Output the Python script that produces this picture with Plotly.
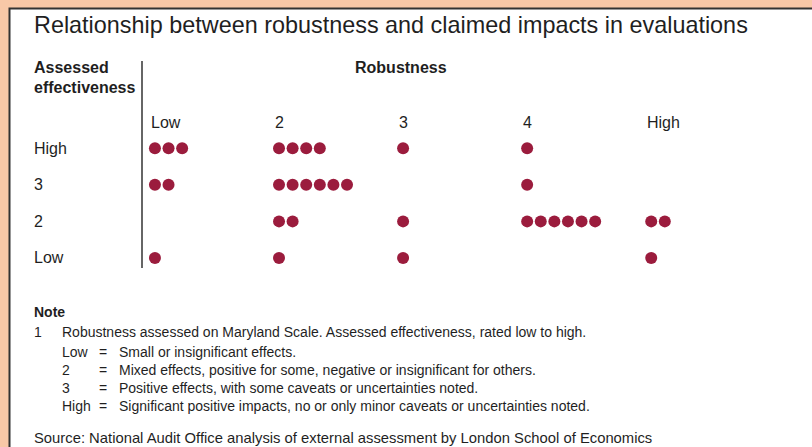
import plotly.graph_objects as go

# ---------------- data ----------------
robustness = ["Low", "2", "3", "4", "High"]          # columns (x)
effectiveness = ["Low", "2", "3", "High"]            # rows (y), bottom to top
counts_eff_low = [1, 1, 1, 0, 1]
counts_eff_2 = [0, 2, 1, 6, 2]
counts_eff_3 = [2, 6, 0, 1, 0]
counts_eff_high = [3, 4, 1, 1, 0]
counts = [counts_eff_low, counts_eff_2, counts_eff_3, counts_eff_high]

title = "Relationship between robustness and claimed impacts in evaluations"
note_main = "Robustness assessed on Maryland Scale. Assessed effectiveness, rated low to high."
note_keys = ["Low", "2", "3", "High"]
note_texts = [
    "Small or insignificant effects.",
    "Mixed effects, positive for some, negative or insignificant for others.",
    "Positive effects, with some caveats or uncertainties noted.",
    "Significant positive impacts, no or only minor caveats or uncertainties noted.",
]
source = "Source: National Audit Office analysis of external assessment by London School of Economics"

# ---------------- layout geometry ----------------
W, H = 812, 447
FONT = "Liberation Sans, Arial, Helvetica, sans-serif"
TXT = "#1f1f1f"
DOT = "#9b1c3d"
PEACH = "#f8c8a7"

x_px_per_unit, x0_px = 124.07, 154.94
y_px_per_unit, y0_px = 36.56, 257.94
step = 13.6 / x_px_per_unit  # dot spacing within a cell, in x units

def px(x):
    return x / W

def py(y):
    return 1 - y / H

xs, ys = [], []
for i, row in enumerate(counts):
    for j, n in enumerate(row):
        for k in range(n):
            xs.append(j + k * step)
            ys.append(i)

fig = go.Figure()
fig.add_trace(go.Scatter(
    x=xs, y=ys, mode="markers",
    marker=dict(size=12, color=DOT, line=dict(width=0)),
    hoverinfo="skip", showlegend=False,
))

ann = []
def add(text, x, y, size, bold=False, xanchor="left", xref="paper", yref="paper"):
    ann.append(dict(
        text=f"<b>{text}</b>" if bold else text,
        x=x, y=y, xref=xref, yref=yref, xanchor=xanchor, yanchor="middle",
        showarrow=False, font=dict(family=FONT, size=size, color=TXT),
    ))

add(title, px(32), py(25), 23.4)
add("Assessed", px(32), py(68), 16, bold=True)
add("effectiveness", px(32), py(88), 16, bold=True)
add("Robustness", px(401), py(68), 16, bold=True, xanchor="center")

for j, lab in enumerate(robustness):
    add(lab, j - 6 / x_px_per_unit, py(122), 16, xref="x")
for i, lab in enumerate(effectiveness):
    add(lab, px(32), i, 16, yref="y")

add("Note", px(32), py(312), 14, bold=True)
add("1", px(32), py(332), 14)
add(note_main, px(60), py(332), 14)
for r, (k, t) in enumerate(zip(note_keys, note_texts)):
    yy = 352 + 18 * r
    add(k, px(60), py(yy), 14)
    add("=", px(103), py(yy), 14, xanchor="center")
    add(t, px(117), py(yy), 14)
add(source, px(32), py(438), 14.8)

shapes = [
    dict(type="rect", xref="paper", yref="paper", x0=px(9.5), y0=py(470), x1=px(830), y1=py(8.5),
         line=dict(color="#333333", width=2), fillcolor="white", layer="below"),
    dict(type="line", xref="paper", yref="paper", x0=px(142), x1=px(142), y0=py(61), y1=py(268),
         line=dict(color="#333333", width=1.5)),
]

fig.update_layout(
    width=W, height=H,
    margin=dict(l=0, r=0, t=0, b=0),
    paper_bgcolor=PEACH, plot_bgcolor="rgba(0,0,0,0)",
    xaxis=dict(range=[-x0_px / x_px_per_unit, (W - x0_px) / x_px_per_unit],
               visible=False, fixedrange=True),
    yaxis=dict(range=[-(H - y0_px) / y_px_per_unit, y0_px / y_px_per_unit],
               visible=False, fixedrange=True),
    annotations=ann, shapes=shapes, showlegend=False,
)

fig.write_html(
    "out.html",
    config={"displayModeBar": False},
    post_script="document.body.style.margin='0';document.body.style.overflow='hidden';",
)
